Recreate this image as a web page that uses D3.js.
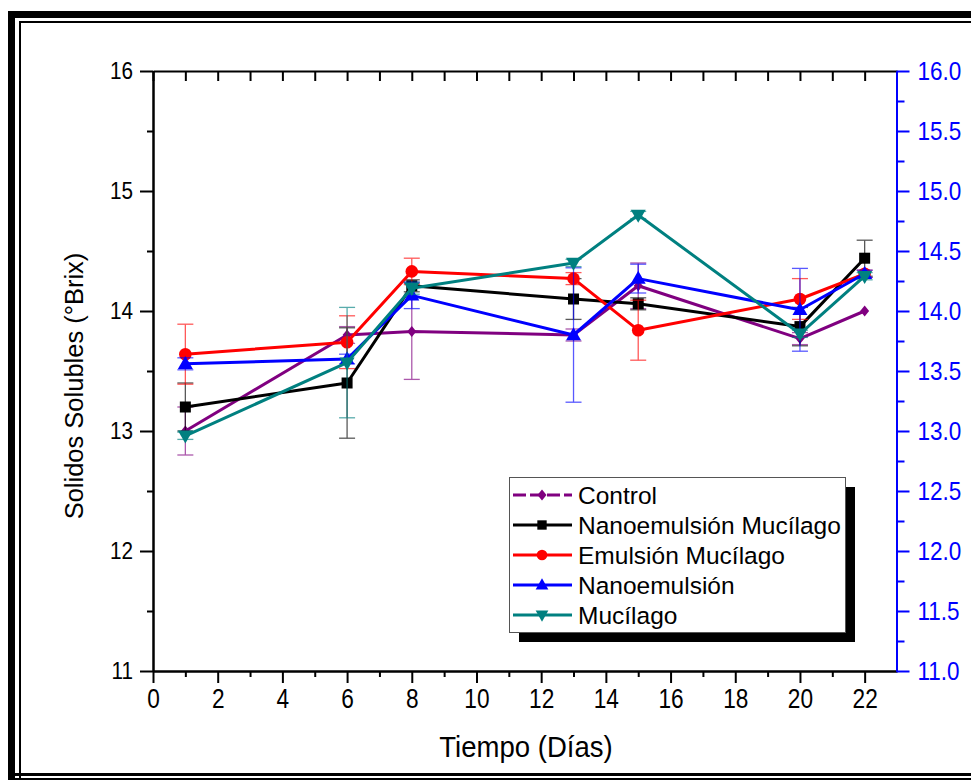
<!DOCTYPE html>
<html>
<head>
<meta charset="utf-8">
<script src="https://cdn.jsdelivr.net/npm/d3@7/dist/d3.min.js"></script>
<style>
  html, body { margin: 0; padding: 0; background: #fff; }
  svg { display: block; font-family: "Liberation Sans", Arial, sans-serif; }
</style>
</head>
<body>
<svg id="chart" width="971" height="780"></svg>
<script>
// Days of storage
const days = [1, 6, 8, 13, 15, 20, 22];

// Soluble solids (°Brix) per treatment, with their error bars
const controlValues   = [13.00, 13.80, 13.83, 13.80, 14.21, 13.77, 14.00];
const controlErrors   = [0.20, 0.07, 0.40, 0.05, 0.19, 0.05, 0.00];
const nanoMucValues   = [13.20, 13.40, 14.21, 14.10, 14.06, 13.87, 14.44];
const nanoMucErrors   = [0.20, 0.46, 0.05, 0.17, 0.05, 0.16, 0.15];
const emulMucValues   = [13.64, 13.74, 14.33, 14.27, 13.84, 14.10, 14.31];
const emulMucErrors   = [0.25, 0.22, 0.11, 0.05, 0.25, 0.17, 0.03];
const nanoValues      = [13.56, 13.60, 14.13, 13.80, 14.27, 14.01, 14.31];
const nanoErrors      = [0.05, 0.04, 0.11, 0.56, 0.12, 0.345, 0.03];
const mucilagoValues  = [12.96, 13.57, 14.19, 14.40, 14.80, 13.81, 14.29];
const mucilagoErrors  = [0.03, 0.46, 0.05, 0.03, 0.03, 0.03, 0.03];

const seriesNames = ["Control", "Nanoemulsión Mucílago", "Emulsión Mucílago", "Nanoemulsión", "Mucílago"];

// Axis ticks
const xMajorTicks = [0, 2, 4, 6, 8, 10, 12, 14, 16, 18, 20, 22];
const xMinorTicks = [1, 3, 5, 7, 9, 11, 13, 15, 17, 19, 21];
const xTopTicks = d3.range(0, 23, 1);
const yLeftTicks = [11, 12, 13, 14, 15, 16];
const yLeftMinor = [11.5, 12.5, 13.5, 14.5, 15.5];
const yRightTicks = [11.0, 11.5, 12.0, 12.5, 13.0, 13.5, 14.0, 14.5, 15.0, 15.5, 16.0];
const yRightMinor = [11.25, 11.75, 12.25, 12.75, 13.25, 13.75, 14.25, 14.75, 15.25, 15.75];

const series = [
  { name: seriesNames[0], values: controlValues,  errors: controlErrors,  color: "#800080", symbol: "diamond", dashed: true },
  { name: seriesNames[1], values: nanoMucValues,  errors: nanoMucErrors,  color: "#000000", symbol: "square" },
  { name: seriesNames[2], values: emulMucValues,  errors: emulMucErrors,  color: "#ff0000", symbol: "circle" },
  { name: seriesNames[3], values: nanoValues,     errors: nanoErrors,     color: "#0000ff", symbol: "up" },
  { name: seriesNames[4], values: mucilagoValues, errors: mucilagoErrors, color: "#008080", symbol: "down" }
];

const svg = d3.select("#chart");

// Double frame around the figure
const frame = svg.append("g");
frame.append("rect").attr("x", 8).attr("y", 11).attr("width", 1000).attr("height", 7).attr("fill", "#000");
frame.append("rect").attr("x", 8).attr("y", 11).attr("width", 7).attr("height", 770).attr("fill", "#000");
frame.append("rect").attr("x", 19).attr("y", 21).attr("width", 1000).attr("height", 2).attr("fill", "#000");
frame.append("rect").attr("x", 19).attr("y", 21).attr("width", 2).attr("height", 760).attr("fill", "#000");
frame.append("rect").attr("x", 8).attr("y", 773).attr("width", 1000).attr("height", 3).attr("fill", "#000");
frame.append("rect").attr("x", 8).attr("y", 778).attr("width", 1000).attr("height", 2).attr("fill", "#000");

const x = d3.scaleLinear().domain([0, 23]).range([153, 897]);
const y = d3.scaleLinear().domain([11, 16]).range([671, 71]);
const x0 = x.range()[0], x1 = x.range()[1];
const y0 = y.range()[0], y1 = y.range()[1];

function styleAxis(g, color) {
  g.selectAll("path.domain").attr("stroke", color).attr("stroke-width", 2);
  g.selectAll(".tick line").attr("stroke", color).attr("stroke-width", 2);
}

// Bottom axis
const bottomAxis = svg.append("g").attr("transform", `translate(0,${y0})`)
  .call(d3.axisBottom(x).tickValues(xMajorTicks).tickSize(12).tickSizeOuter(0).tickFormat(d3.format("d")));
styleAxis(bottomAxis, "#000");
bottomAxis.selectAll(".tick text")
  .attr("y", 37).attr("dy", 0)
  .attr("font-size", 27).attr("fill", "#000")
  .attr("font-family", "Liberation Sans, Arial, sans-serif")
  .attr("transform", "scale(0.84,1)");
const bottomMinor = svg.append("g").attr("transform", `translate(0,${y0})`)
  .call(d3.axisBottom(x).tickValues(xMinorTicks).tickSize(6).tickSizeOuter(0).tickFormat(""));
styleAxis(bottomMinor, "#000");

// Top axis (ticks pointing inward)
const topAxis = svg.append("g").attr("transform", `translate(0,${y1})`)
  .call(d3.axisTop(x).tickValues(xTopTicks).tickSize(-10).tickSizeOuter(0).tickFormat(""));
styleAxis(topAxis, "#000");

// Left axis
const leftAxis = svg.append("g").attr("transform", `translate(${x0},0)`)
  .call(d3.axisLeft(y).tickValues(yLeftTicks).tickSize(13).tickSizeOuter(0).tickFormat(d3.format("d")));
styleAxis(leftAxis, "#000");
leftAxis.selectAll(".tick text")
  .attr("x", -20 / 0.9)
  .attr("font-size", 23).attr("fill", "#000")
  .attr("font-family", "Liberation Sans, Arial, sans-serif")
  .attr("transform", "scale(0.9,1)");
const leftMinor = svg.append("g").attr("transform", `translate(${x0},0)`)
  .call(d3.axisLeft(y).tickValues(yLeftMinor).tickSize(6).tickSizeOuter(0).tickFormat(""));
styleAxis(leftMinor, "#000");

// Right axis (blue)
const rightAxis = svg.append("g").attr("transform", `translate(${x1 - 0.5},0)`)
  .call(d3.axisRight(y).tickValues(yRightTicks).tickSize(13).tickSizeOuter(0).tickFormat(d3.format(".1f")));
styleAxis(rightAxis, "#0000ff");
rightAxis.selectAll(".tick text")
  .attr("x", 21 / 0.9)
  .attr("font-size", 25).attr("fill", "#0000ff")
  .attr("font-family", "Liberation Sans, Arial, sans-serif")
  .attr("transform", "scale(0.9,1)");
const rightMinor = svg.append("g").attr("transform", `translate(${x1 - 0.5},0)`)
  .call(d3.axisRight(y).tickValues(yRightMinor).tickSize(8).tickSizeOuter(0).tickFormat(""));
styleAxis(rightMinor, "#0000ff");

// Axis titles
svg.append("text")
  .attr("x", 526).attr("y", 757)
  .attr("text-anchor", "middle")
  .attr("font-size", 29)
  .attr("transform", "translate(526,0) scale(0.95,1) translate(-526,0)")
  .text("Tiempo (Días)");
svg.append("text")
  .attr("transform", "translate(83,386) rotate(-90)")
  .attr("text-anchor", "middle")
  .attr("font-size", 25.5)
  .text("Solidos Solubles (°Brix)");

// Marker shapes
function drawMarker(g, symbol, cx, cy, color, scale = 1) {
  let el;
  if (symbol === "circle") {
    el = g.append("circle").attr("cx", cx).attr("cy", cy).attr("r", 6.3 * scale);
  } else if (symbol === "square") {
    const s = 11 * scale;
    el = g.append("rect").attr("x", cx - s / 2).attr("y", cy - s / 2).attr("width", s).attr("height", s);
  } else if (symbol === "diamond") {
    const w = 4.5 * scale, h = 5.5 * scale;
    el = g.append("path").attr("d", `M${cx},${cy - h}L${cx + w},${cy}L${cx},${cy + h}L${cx - w},${cy}Z`);
  } else if (symbol === "up") {
    const w = 7.5 * scale, h = 13 * scale;
    el = g.append("path").attr("d", `M${cx},${cy - h * 0.6}L${cx + w},${cy + h * 0.4}L${cx - w},${cy + h * 0.4}Z`);
  } else {
    const w = 7.5 * scale, h = 13 * scale;
    el = g.append("path").attr("d", `M${cx},${cy + h * 0.6}L${cx + w},${cy - h * 0.4}L${cx - w},${cy - h * 0.4}Z`);
  }
  el.attr("fill", color);
}

const line = d3.line().x(d => x(d.day)).y(d => y(d.value));

const plot = svg.append("g");
series.forEach(s => {
  const pts = days.map((d, i) => ({ day: d, value: s.values[i], err: s.errors[i] }));
  const g = plot.append("g");
  // error bars
  const eg = g.append("g").attr("stroke", s.color).attr("stroke-width", 1.3).attr("opacity", 0.65);
  pts.forEach(p => {
    if (p.err <= 0) return;
    const cx = x(p.day);
    const yt = y(p.value + p.err), yb = y(p.value - p.err);
    eg.append("line").attr("x1", cx).attr("x2", cx).attr("y1", yt).attr("y2", yb);
    eg.append("line").attr("x1", cx - 8).attr("x2", cx + 8).attr("y1", yt).attr("y2", yt);
    eg.append("line").attr("x1", cx - 8).attr("x2", cx + 8).attr("y1", yb).attr("y2", yb);
  });
  g.append("path").datum(pts).attr("d", line)
    .attr("fill", "none").attr("stroke", s.color).attr("stroke-width", 3).attr("stroke-linejoin", "round");
  pts.forEach(p => drawMarker(g, s.symbol, x(p.day), y(p.value), s.color));
});

// Legend with drop shadow
const legend = svg.append("g");
legend.append("rect").attr("x", 519).attr("y", 487).attr("width", 336).attr("height", 155).attr("fill", "#000");
legend.append("rect").attr("x", 509.5).attr("y", 477.5).attr("width", 336).attr("height", 155)
  .attr("fill", "#fff").attr("stroke", "#555").attr("stroke-width", 1);
series.forEach((s, i) => {
  const cy = 495 + i * 30;
  legend.append("line").attr("x1", 513).attr("x2", 572).attr("y1", cy).attr("y2", cy)
    .attr("stroke", s.color).attr("stroke-width", 3)
    .attr("stroke-dasharray", s.dashed ? "13,4" : null);
  drawMarker(legend, s.symbol, 542, cy, s.color, s.symbol === "diamond" ? 1 : 0.85);
  legend.append("text").attr("x", 578).attr("y", cy + 8.5)
    .attr("font-size", 24.5).attr("fill", "#000").text(s.name);
});
</script>
</body>
</html>
